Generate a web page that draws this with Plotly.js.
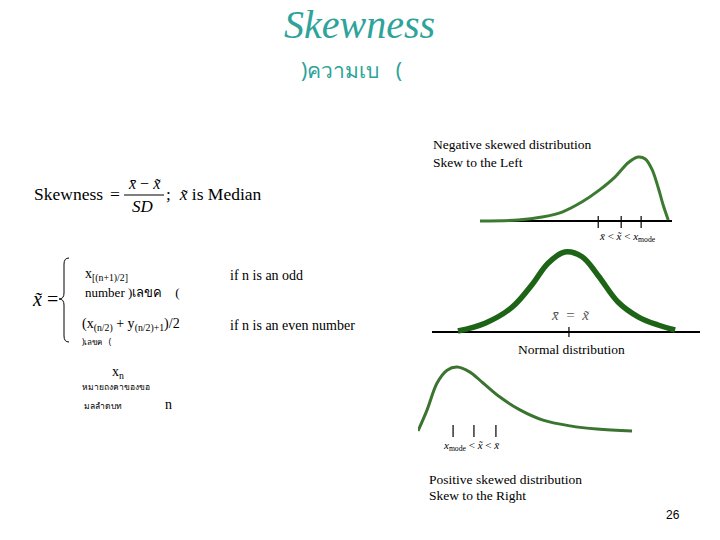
<!DOCTYPE html>
<html>
<head>
<meta charset="utf-8">
<script src="https://cdn.plot.ly/plotly-3.0.1.min.js"></script>
<style>html,body{margin:0;padding:0;background:#fff;}#chart{width:720px;height:540px;}</style>
</head>
<body>
<div id="chart"></div>
<script>
// Negative skewed curve (left skew)
const negX = [0, 2.02, 3.30, 4.36, 5.43, 6.28, 7.18, 7.87, 8.40, 8.78, 9.15, 9.47, 9.73, 10.0];
const negY = [0, 0.016, 0.063, 0.14, 0.30, 0.47, 0.69, 0.91, 1.00, 0.97, 0.80, 0.52, 0.25, 0.016];
const negMarks = [6.28, 7.50, 8.56]; // mean, median, mode

// Normal curve
const normX = [0.97, 1.98, 2.99, 3.73, 4.33, 4.96, 5.60, 6.19, 6.94, 7.69, 8.43, 9.07];
const normY = [0.0125, 0.11, 0.31, 0.59, 0.86, 1.0, 0.94, 0.71, 0.375, 0.19, 0.0875, 0.025];
const normMarks = [5.11]; // mean = median

// Positive skewed curve (right skew)
const posX = [0, 0.41, 0.86, 1.31, 1.76, 2.34, 2.93, 3.69, 4.59, 5.63, 6.85, 8.06, 9.64];
const posY = [0, 0.33, 0.75, 0.95, 1.0, 0.92, 0.75, 0.53, 0.33, 0.17, 0.08, 0.03, 0.0];
const posMarks = [1.58, 2.52, 3.51]; // mode, median, mean

function markSegs(vals, lo, hi) {
  const x = [], y = [];
  vals.forEach(v => { x.push(v, v, null); y.push(lo, hi, null); });
  return {x, y};
}

const nm = markSegs(negMarks, -0.11, 0.08);
const om = markSegs(normMarks, -0.0625, 0.0625);
const pm = markSegs(posMarks, -0.094, 0.094);

const traces = [
  {x: negX, y: negY, xaxis: 'x', yaxis: 'y', mode: 'lines', line: {color: '#3b7a30', width: 3, shape: 'spline', smoothing: 0.8}, hoverinfo: 'skip'},
  {x: nm.x, y: nm.y, xaxis: 'x', yaxis: 'y', mode: 'lines', line: {color: '#000', width: 1.2}, hoverinfo: 'skip'},
  {x: normX, y: normY, xaxis: 'x2', yaxis: 'y2', mode: 'lines', line: {color: '#1d6416', width: 5.5, shape: 'spline'}, hoverinfo: 'skip'},
  {x: om.x, y: om.y, xaxis: 'x2', yaxis: 'y2', mode: 'lines', line: {color: '#000', width: 1.2}, hoverinfo: 'skip'},
  {x: posX, y: posY, xaxis: 'x3', yaxis: 'y3', mode: 'lines', line: {color: '#3b7330', width: 3, shape: 'spline'}, hoverinfo: 'skip'},
  {x: pm.x, y: pm.y, xaxis: 'x3', yaxis: 'y3', mode: 'lines', line: {color: '#000', width: 1.2}, hoverinfo: 'skip'}
];

const hiddenX = {showgrid: false, zeroline: false, showticklabels: false, ticks: '', showline: false, fixedrange: true};
const baseY = {showgrid: false, showticklabels: false, ticks: '', showline: false, fixedrange: true,
  zeroline: true, zerolinecolor: '#000', zerolinewidth: 1.5, range: [-0.15, 1.1]};

const W = 720, H = 540;
const px = v => v / W;
const py = v => (H - v) / H;

const S = 'Liberation Serif, Times New Roman, serif';
const T = 'Noto Sans, DejaVu Sans, sans-serif';
const annotations = [];
function ann(text, x, y, size, extra) {
  annotations.push(Object.assign({text: text, x: px(x), y: py(y), xref: 'paper', yref: 'paper', showarrow: false,
    xanchor: 'left', yanchor: 'middle', font: {family: S, size: size, color: '#000'}}, extra || {}));
}

// Title
ann('<i>Skewness</i>', 359, 25, 40, {xanchor: 'center', font: {family: S, size: 40, color: '#2ea39b'}});
ann(')ความเบ&nbsp;&nbsp;&nbsp;(', 351, 70, 21, {xanchor: 'center', font: {family: T, size: 21, color: '#2ea39b'}});

// Formula
ann('Skewness', 32, 194, 17.5);
ann('=', 108, 194, 17.5);
ann('<i>x\u0304</i> \u2212 <i>x\u0303</i>', 144, 183, 16, {xanchor: 'center'});
ann('<i>SD</i>', 143, 207, 17, {xanchor: 'center'});
ann(';&nbsp; <i>x\u0303</i> is Median', 164, 194, 17.5);

// Median definition
ann('<i>x\u0303</i> =', 30, 299, 20);
ann('x<sub>[(n+1)/2]</sub>', 83, 275, 14);
ann('number )เลขค&nbsp;&nbsp;&nbsp;&nbsp;(', 83, 293, 13, {font: {family: S, size: 13, color: '#000'}});
ann('if n is an odd', 228, 275, 14);
ann('(x<sub>(n/2)</sub> + y<sub>(n/2)+1</sub>)/2', 80, 325, 14);
ann(')เลขค&nbsp;&nbsp;&nbsp;(', 80, 341, 9, {font: {family: T, size: 8, color: '#000'}});
ann('if n is an even number', 228, 326, 14);
ann('x<sub>n</sub>', 110, 372, 14);
ann('หมายถงคาของขอ', 80, 386, 9, {font: {family: T, size: 8.5, color: '#000'}});
ann('มลลำดบท', 82, 405, 9, {font: {family: T, size: 8.5, color: '#000'}});
ann('n', 163, 404, 14);

// Right side labels
ann('Negative skewed distribution', 431, 145, 13.5);
ann('Skew to the Left', 431, 162, 13.5);
ann('<i>x\u0304</i> &lt; <i>x\u0303</i> &lt; <i>x</i><sub>mode</sub>', 597, 237, 11);
ann('<i>x\u0304</i> &nbsp;= &nbsp;<i>x\u0303</i>', 570, 315, 15, {xanchor: 'center', font: {family: S, size: 15, color: '#555'}});
ann('Normal distribution', 516, 349, 13.5);
ann('<i>x</i><sub>mode</sub> &lt; <i>x\u0303</i> &lt; <i>x\u0304</i>', 441, 446, 11);
ann('Positive skewed distribution', 427, 479, 13.5);
ann('Skew to the Right', 427, 495, 13.5);
ann('26', 664, 515, 12, {font: {family: 'Liberation Sans, Arial, sans-serif', size: 12, color: '#000'}});

function pathPx(cmds) {
  return cmds.map(c => typeof c === 'string' ? c : (px(c[0]) + ',' + py(c[1]))).join(' ');
}

const shapes = [
  {type: 'line', xref: 'paper', yref: 'paper', x0: px(124), x1: px(164), y0: py(195), y1: py(195), line: {color: '#000', width: 1.2}},
  {type: 'path', xref: 'paper', yref: 'paper', line: {color: '#000', width: 1},
   path: pathPx(['M', [69, 258], 'Q', [64, 258], [64, 264], 'L', [64, 293], 'Q', [64, 299], [59, 299],
                 'Q', [64, 299], [64, 305], 'L', [64, 336], 'Q', [64, 342], [69, 342]])}
];

const layout = {
  width: 720, height: 540,
  margin: {l: 0, r: 0, t: 0, b: 0},
  paper_bgcolor: '#fff', plot_bgcolor: 'rgba(0,0,0,0)',
  showlegend: false,
  xaxis: Object.assign({}, hiddenX, {domain: [480/720, 672/720], range: [0, 10.2]}),
  yaxis: Object.assign({}, baseY, {domain: [(540-230.6)/540, (540-150.6)/540]}),
  xaxis2: Object.assign({}, hiddenX, {domain: [432/720, 700/720], range: [0, 10], anchor: 'y2'}),
  yaxis2: Object.assign({}, baseY, {domain: [(540-344)/540, (540-244)/540], anchor: 'x2'}),
  xaxis3: Object.assign({}, hiddenX, {domain: [418/720, 640/720], range: [0, 10], anchor: 'y3'}),
  yaxis3: Object.assign({}, baseY, {zeroline: false, domain: [(540-440.6)/540, (540-360.6)/540], anchor: 'x3'}),
  annotations: annotations,
  shapes: shapes
};

Plotly.newPlot('chart', traces, layout, {displayModeBar: false, staticPlot: true});
</script>
</body>
</html>
